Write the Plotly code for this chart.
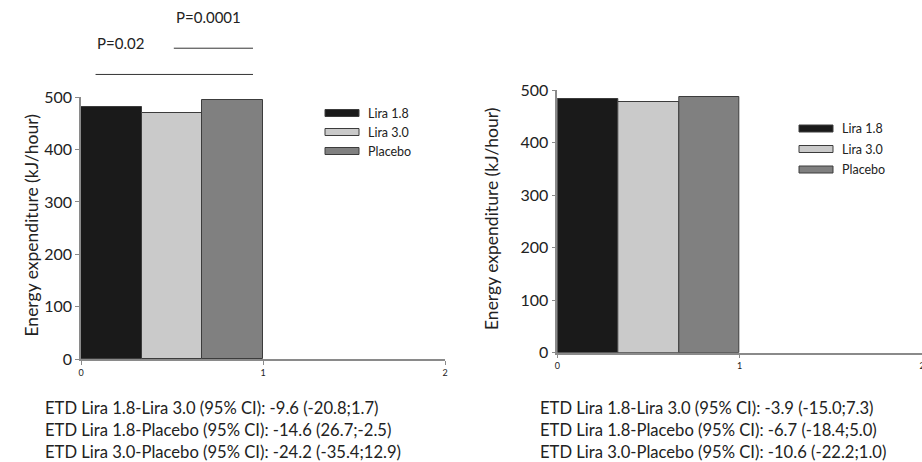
import plotly.graph_objects as go

# Treatment groups and mean energy expenditure (kJ/hour)
groups = ["Lira 1.8", "Lira 3.0", "Placebo"]
colors = ["#1a1a1a", "#cacaca", "#808080"]
left_values = [480, 470, 495]
right_values = [482, 478, 487]

# Bars are drawn side by side filling the interval [0, 1]
bar_width = 1 / 3
bar_centers = [bar_width * (i + 0.5) for i in range(len(groups))]

# Significance brackets for the left panel: (x start, x end, y level, label, label x, label y)
brackets = [
    (0.08, 0.945, 543, "P=0.02", 0.215, 602),
    (0.51, 0.945, 593, "P=0.0001", 0.70, 652),
]

ci_left = [
    "ETD Lira 1.8-Lira 3.0 (95% CI): -9.6 (-20.8;1.7)",
    "ETD Lira 1.8-Placebo (95% CI): -14.6 (26.7;-2.5)",
    "ETD Lira 3.0-Placebo (95% CI): -24.2 (-35.4;12.9)",
]
ci_right = [
    "ETD Lira 1.8-Lira 3.0 (95% CI): -3.9 (-15.0;7.3)",
    "ETD Lira 1.8-Placebo (95% CI): -6.7 (-18.4;5.0)",
    "ETD Lira 3.0-Placebo (95% CI): -10.6 (-22.2;1.0)",
]

FONT = "Lato"
W, H = 922, 462
AXIS_COLOR = "#8a8a8a"
TEXT_COLOR = "#222222"

fig = go.Figure()

for name, color, lv, rv, cx in zip(groups, colors, left_values, right_values, bar_centers):
    fig.add_trace(go.Bar(x=[cx], y=[lv], width=bar_width, name=name,
                         marker=dict(color=color, line=dict(color="#3c3c3c", width=1)),
                         xaxis="x", yaxis="y", showlegend=False))
    fig.add_trace(go.Bar(x=[cx], y=[rv], width=bar_width, name=name,
                         marker=dict(color=color, line=dict(color="#3c3c3c", width=1)),
                         xaxis="x2", yaxis="y2", showlegend=False))

# Bracket lines live on an invisible axis pair stacked above the left panel
for x0, x1, yl, label, lx, ly in brackets:
    fig.add_trace(go.Scatter(x=[x0, x1], y=[yl, yl], mode="lines",
                             line=dict(color="#333333", width=1),
                             xaxis="x3", yaxis="y3", showlegend=False, hoverinfo="skip"))
    fig.add_annotation(x=lx, y=ly, xref="x3", yref="y3", text=label, showarrow=False,
                       font=dict(family=FONT, size=15, color=TEXT_COLOR))


def px_x(p):
    return p / W


def px_y(p):
    return 1 - p / H


xaxis_common = dict(range=[0, 2], tickvals=[0, 1, 2], ticks="outside", ticklen=4,
                    tickcolor=AXIS_COLOR, showline=True, linecolor=AXIS_COLOR, linewidth=1.5,
                    showgrid=False, zeroline=False, automargin=False, ticklabeloverflow="allow",
                    tickfont=dict(family=FONT, size=9, color=TEXT_COLOR))
yaxis_common = dict(range=[0, 500], tickvals=[0, 100, 200, 300, 400, 500], ticks="outside",
                    ticklen=4, tickcolor=AXIS_COLOR, showline=True, linecolor=AXIS_COLOR,
                    linewidth=1.5, showgrid=False, zeroline=False, automargin=False,
                    tickfont=dict(family=FONT, size=16, color=TEXT_COLOR))

# Left panel: y=0 at 359px, y=500 at 97px; x from 81px (0) to 445px (2)
y_top_left = 97
y_zero_left = 359.3
units_per_px = 500 / (y_zero_left - y_top_left)
fig.update_layout(
    xaxis=dict(domain=[px_x(81), px_x(445)], anchor="y", **xaxis_common),
    yaxis=dict(domain=[px_y(y_zero_left), px_y(y_top_left)], anchor="x", **yaxis_common),
    xaxis2=dict(domain=[px_x(557.3), 1.0], anchor="y2", **xaxis_common),
    yaxis2=dict(domain=[px_y(352.7), px_y(90)], anchor="x2", **yaxis_common),
    xaxis3=dict(domain=[px_x(81), px_x(445)], anchor="y3", range=[0, 2], visible=False,
                automargin=False),
    yaxis3=dict(domain=[px_y(y_top_left), px_y(2)], anchor="x3", automargin=False,
                range=[500, 500 + (y_top_left - 2) * units_per_px], visible=False),
)

# Axis titles
for cx, cy in [(18, 226), (491, 219)]:
    fig.add_annotation(x=px_x(cx), y=px_y(cy), xref="paper", yref="paper",
                       text="Energy expenditure (kJ/hour)", textangle=-90, showarrow=False,
                       font=dict(family=FONT, size=17.5, color=TEXT_COLOR))

# Legends drawn as wide swatches with labels
for (sx, ys) in [(325, [113, 132, 151]), (799, [128.5, 149, 169.5])]:
    for name, color, yy in zip(groups, colors, ys):
        fig.add_shape(type="rect", xref="paper", yref="paper",
                      x0=px_x(sx), x1=px_x(sx + 34), y0=px_y(yy - 3.5), y1=px_y(yy + 3.5),
                      fillcolor=color, line=dict(color="#3c3c3c", width=1))
        fig.add_annotation(x=px_x(sx + 41), y=px_y(yy), xref="paper", yref="paper",
                           text=name, showarrow=False, xanchor="left", yanchor="middle",
                           font=dict(family=FONT, size=12.5, color=TEXT_COLOR))

# Treatment difference notes under each panel
for sx, lines in [(43, ci_left), (538, ci_right)]:
    for i, line in enumerate(lines):
        fig.add_annotation(x=px_x(sx), y=px_y(408 + 21.8 * i), xref="paper", yref="paper",
                           text=line, showarrow=False, xanchor="left", yanchor="middle",
                           font=dict(family=FONT, size=16.6, color=TEXT_COLOR))

fig.update_layout(
    width=W, height=H, margin=dict(l=0, r=0, t=0, b=0, pad=0, autoexpand=False),
    paper_bgcolor="white", plot_bgcolor="white", bargap=0, showlegend=False,
)

fig.write_html("out.html")
